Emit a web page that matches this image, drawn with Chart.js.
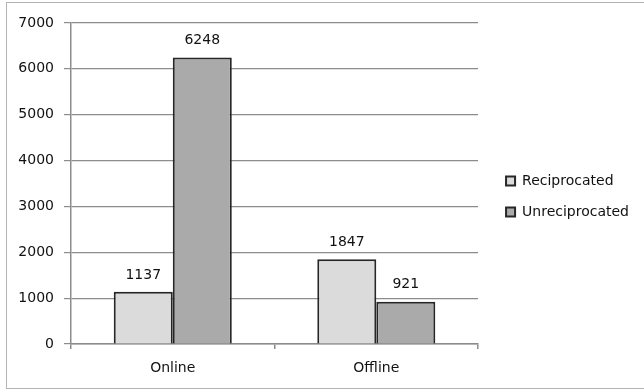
<!DOCTYPE html>
<html>
<head>
<meta charset="utf-8">
<script src="https://cdn.jsdelivr.net/npm/chart.js@4/dist/chart.umd.min.js"></script>
<style>
  html, body { margin: 0; padding: 0; background: #fff; }
  #wrap { width: 644px; height: 390px; position: relative; }
</style>
</head>
<body>
<div id="wrap"><canvas id="column-chart"></canvas></div>
<script>
// Column chart data
var categories = ["Online", "Offline"];
var reciprocated = [1137, 1847];
var unreciprocated = [6248, 921];
var yTicks = [0, 1000, 2000, 3000, 4000, 5000, 6000, 7000];

var fontFamily = "'DejaVu Sans', Verdana, sans-serif";
var textColor = "#111";

// value labels above each bar
var valueLabels = {
    id: 'valueLabels',
    afterDatasetsDraw: function(chart) {
        var ctx = chart.ctx;
        ctx.save();
        ctx.font = "14px " + fontFamily;
        ctx.fillStyle = textColor;
        ctx.textAlign = "center";
        ctx.textBaseline = "middle";
        chart.data.datasets.forEach(function(ds, i) {
            chart.getDatasetMeta(i).data.forEach(function(bar, j) {
                ctx.fillText(ds.data[j], bar.x, bar.y - 17);
            });
        });
        ctx.restore();
    }
};

// thin frame round the whole chart
var frame = {
    id: 'frame',
    beforeDraw: function(chart) {
        var ctx = chart.ctx;
        ctx.save();
        ctx.fillStyle = "#fff";
        ctx.fillRect(0, 0, chart.width, chart.height);
        ctx.strokeStyle = "#b4b4b4";
        ctx.lineWidth = 1;
        ctx.strokeRect(6.5, 2.5, 700, 386);
        ctx.restore();
    }
};

// nudge the legend a bit right and up inside its box
var legendNudge = {
    id: 'legendNudge',
    afterLayout: function(chart) {
        var lg = chart.legend;
        lg.left += 11; lg.right += 11;
        lg.top -= 10; lg.bottom -= 10;
    }
};

var chartData = {
    labels: categories,
    datasets: [{
        label: "Reciprocated",
        data: reciprocated,
        backgroundColor: "#dadbda",
        borderColor: "#262626",
        borderWidth: 2
    }, {
        label: "Unreciprocated",
        data: unreciprocated,
        backgroundColor: "#a9aaa9",
        borderColor: "#262626",
        borderWidth: 2
    }]
};

var config = {
    type: 'bar',
    data: chartData,
    plugins: [frame, valueLabels, legendNudge],
    options: {
        responsive: false,
        animation: false,
        layout: { padding: { top: 23, right: 16, bottom: 0, left: 0 } },
        datasets: {
            bar: { categoryPercentage: 0.58, barPercentage: 1.0 }
        },
        plugins: {
            legend: {
                position: 'right',
                labels: {
                    font: { family: fontFamily, size: 14 },
                    color: textColor,
                    boxWidth: 9,
                    boxHeight: 9,
                    padding: 17
                }
            },
            tooltip: { enabled: false }
        },
        scales: {
            x: {
                grid: {
                    offset: true,
                    drawOnChartArea: false,
                    color: "#8c8c8c",
                    lineWidth: 1.5,
                    tickLength: 5
                },
                border: { color: "#8c8c8c", width: 1.5 },
                ticks: {
                    font: { family: fontFamily, size: 14 },
                    color: textColor,
                    padding: 11
                },
                afterFit: function(scale) { scale.height = 46; }
            },
            y: {
                min: 0,
                max: 7000,
                afterBuildTicks: function(scale) {
                    scale.ticks = yTicks.map(function(v) { return { value: v }; });
                },
                grid: {
                    color: "#8c8c8c",
                    lineWidth: 1.2,
                    tickLength: 7
                },
                border: { color: "#8c8c8c", width: 1.5 },
                ticks: {
                    font: { family: fontFamily, size: 14 },
                    color: textColor,
                    padding: 10,
                    callback: function(v) { return String(v); }
                },
                afterFit: function(scale) { scale.width = 71; }
            }
        }
    }
};

var canvas = document.getElementById("column-chart");
canvas.width = 644;
canvas.height = 390;
var barChart = new Chart(canvas, config);
</script>
</body>
</html>
